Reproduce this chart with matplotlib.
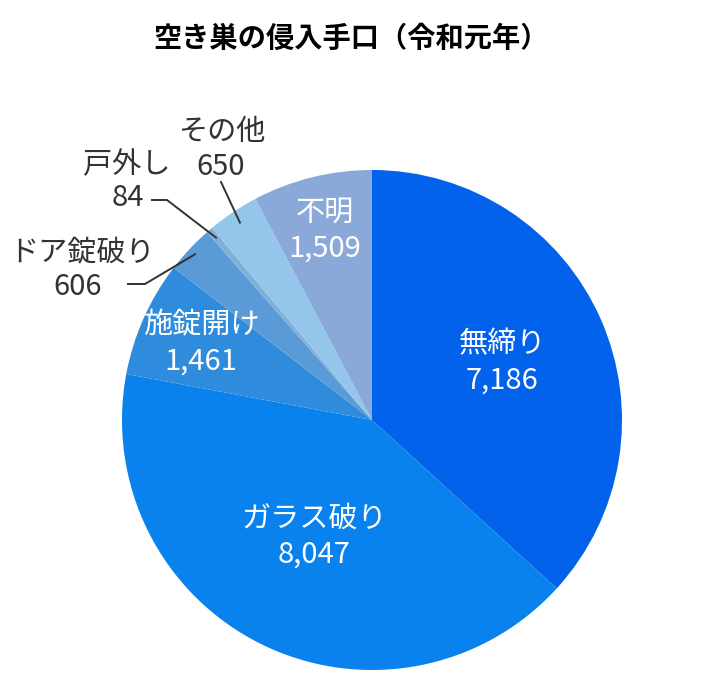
import numpy as np
import matplotlib.pyplot as plt

plt.rcParams['font.family'] = ['Noto Sans CJK JP', 'DejaVu Sans']

# data
categories = ["無締り", "ガラス破り", "施錠開け", "ドア錠破り", "戸外し", "その他", "不明"]
counts = [7186, 8047, 1461, 606, 84, 650, 1509]
colors = ["#0262ec", "#0a82ee", "#2f8cdc", "#5a9ad6", "#7fb0d8", "#94c6ec", "#8aa9d8"]

fig = plt.figure(figsize=(7.01, 6.92), dpi=100)
W, H = 701, 692
cx, cy, R = 372, 420, 250
ax = fig.add_axes([(cx - R) / W, (H - cy - R) / H, 2 * R / W, 2 * R / H])

wedges, _ = ax.pie(counts, colors=colors, startangle=90, counterclock=False,
                   radius=1, wedgeprops=dict(linewidth=0))
ax.set_xlim(-1, 1)
ax.set_ylim(-1, 1)
ax.set_aspect('equal')
ax.axis('off')

FS = 21

def mid_dir(w):
    a = np.deg2rad((w.theta1 + w.theta2) / 2)
    return np.cos(a), np.sin(a)

# labels inside the slices
inside = {0: 0.57, 1: 0.52, 2: 0.75, 6: 0.78}
for i, r in inside.items():
    dx, dy = mid_dir(wedges[i])
    ax.text(dx * r, dy * r, f"{categories[i]}\n{counts[i]:,}", ha='center', va='center',
            color='white', fontsize=FS, linespacing=1.27)

# labels outside with leader lines (pixel layout converted to data units)
def px(x, y):
    return (x - cx) / R, (cy - y) / R

lc = '#333333'
# その他
dx, dy = mid_dir(wedges[5])
ax.text(*px(222, 132), categories[5], ha='center', va='center', color=lc, fontsize=FS)
ax.text(*px(221, 167), f"{counts[5]:,}", ha='center', va='center', color=lc, fontsize=FS)
x0, y0 = px(221, 182)
ax.plot([x0, dx * 0.95], [y0, dy * 0.95], color=lc, lw=1.4, clip_on=False)

# 戸外し
dx, dy = mid_dir(wedges[4])
ax.text(*px(127, 165), categories[4], ha='center', va='center', color=lc, fontsize=FS)
ax.text(*px(144, 198), f"{counts[4]:,}", ha='right', va='center', color=lc, fontsize=FS)
xa, ya = px(152, 200)
xb, yb = px(167, 200)
ax.plot([xa, xb, dx * 0.96], [ya, yb, dy * 0.96], color=lc, lw=1.4, clip_on=False)

# ドア錠破り
dx, dy = mid_dir(wedges[3])
ax.text(*px(82, 253), categories[3], ha='center', va='center', color=lc, fontsize=FS)
ax.text(*px(102, 287), f"{counts[3]:,}", ha='right', va='center', color=lc, fontsize=FS)
xa, ya = px(128, 284)
xb, yb = px(145, 284)
ax.plot([xa, xb, dx * 0.97], [ya, yb, dy * 0.97], color=lc, lw=1.4, clip_on=False)

fig.text(351 / W, 1 - 39 / H, "空き巣の侵入手口（令和元年）", ha='center', va='center',
         fontsize=20.3, fontweight='bold', color='black')

fig.savefig("out.png", dpi=100)
